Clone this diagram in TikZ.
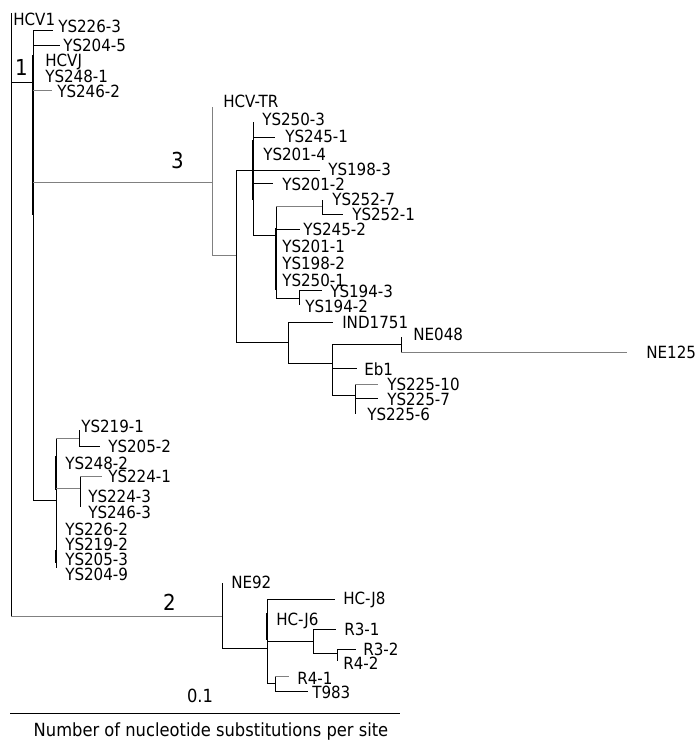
\documentclass[tikz,border=0pt]{standalone}
\usepackage{fontspec}
\setmainfont{DejaVu Sans}[FakeStretch=0.9]
\newcommand\leaffont{\fontsize{12.6}{14}\selectfont}
\newcommand\capfont{\fontsize{13.6}{15}\selectfont}
\newcommand\clusterfont{\fontsize{16.5}{18}\selectfont}
\tikzset{
  br/.style={line width=0.7pt, black},
  gbr/.style={line width=0.7pt, black!50},
  thk/.style={line width=1.5pt, black},
  lab/.style={anchor=base west, inner sep=0pt, font=\leaffont},
  clab/.style={anchor=base, inner sep=0pt, font=\clusterfont},
}
\begin{document}
\begin{tikzpicture}[x=0.75pt,y=-0.75pt]
\useasboundingbox[fill=white] (0,0) rectangle (700,754);
% ---------- internal nodes (entry point) and their vertical extents
\coordinate (rootT) at (11,13);  \coordinate (rootB) at (11,616);
\coordinate (c1) at (33,82);    \coordinate (c1T) at (33,30);   \coordinate (c1B) at (33,500);
\coordinate (c3) at (212,182);  \coordinate (c3T) at (212,107); \coordinate (c3B) at (212,255);
\coordinate (n236) at (236,255); \coordinate (n236T) at (236,170); \coordinate (n236B) at (236,342);
\coordinate (n253) at (253,170); \coordinate (n253T) at (253,122); \coordinate (n253B) at (253,235);
\coordinate (n276) at (276,235); \coordinate (n276T) at (276,206); \coordinate (n276B) at (276,298);
\coordinate (n322) at (322,206); \coordinate (n322T) at (322,200); \coordinate (n322B) at (322,214);
\coordinate (n299) at (299,298); \coordinate (n299T) at (299,290); \coordinate (n299B) at (299,305);
\coordinate (n288) at (288,342); \coordinate (n288T) at (288,322); \coordinate (n288B) at (288,363);
\coordinate (n332) at (332,363); \coordinate (n332T) at (332,344); \coordinate (n332B) at (332,395);
\coordinate (n401) at (401,344); \coordinate (n401T) at (401,337); \coordinate (n401B) at (401,352);
\coordinate (n355) at (355,395); \coordinate (n355T) at (355,384); \coordinate (n355B) at (355,414);
\coordinate (n56) at (56,500);   \coordinate (n56T) at (56,438);   \coordinate (n56B) at (56,568);
\coordinate (n79) at (79,438);   \coordinate (n79T) at (79,430);   \coordinate (n79B) at (79,446);
\coordinate (n80) at (80,488);   \coordinate (n80T) at (80,476);   \coordinate (n80B) at (80,507);
\coordinate (c2) at (222,616);   \coordinate (c2T) at (222,583);   \coordinate (c2B) at (222,648);
\coordinate (n267) at (267,648); \coordinate (n267T) at (267,599); \coordinate (n267B) at (267,683);
\coordinate (n313) at (313,641); \coordinate (n313T) at (313,629); \coordinate (n313B) at (313,653);
\coordinate (n337) at (337,653); \coordinate (n337T) at (337,649); \coordinate (n337B) at (337,661);
\coordinate (n275) at (275,683); \coordinate (n275T) at (275,676); \coordinate (n275B) at (275,691);
% ---------- leaf ends
\coordinate (l2263) at (53,30);   \coordinate (l2045) at (60,45);   \coordinate (l2462) at (52,90);
\coordinate (l2451) at (275,137); \coordinate (l1983) at (320,170); \coordinate (l2012) at (273,183);
\coordinate (l2452) at (300,229); \coordinate (l2521) at (343,214); \coordinate (l1943) at (322,290);
\coordinate (lind) at (333,322);  \coordinate (lne125) at (627,352); \coordinate (leb1) at (357,368);
\coordinate (l22510) at (378,384); \coordinate (l2257) at (378,398);
\coordinate (l2052) at (100,446); \coordinate (l2241) at (102,476);
\coordinate (lhcj8) at (335,599); \coordinate (lr31) at (336,629); \coordinate (lr32) at (356,649);
\coordinate (lr41) at (289,676);  \coordinate (lt983) at (308,691);
% ---------- vertical lines
\draw[br] (rootT) -- (rootB);
\draw[br] (c1T) -- (c1B);
\draw[gbr] (c3T) -- (c3B);
\foreach \n in {n236,n253,n276,n322,n299,n288,n332,n401,n355,n56,n79,n80,c2,n267,n313,n337,n275}
  \draw[br] (\n T) -- (\n B);
% overlapping zero-length branches look thicker
\draw[thk] (33,55) -- (33,215);
\draw[thk] (253,140) -- (253,200);
\draw[thk] (276,228) -- (276,290);
\draw[thk] (56,456) -- (56,490);
\draw[thk] (56,550) -- (56,563);
\draw[thk] (267,613) -- (267,640);
% ---------- horizontal connectors between internal nodes
\draw[br]  (c1 -| rootT) -- (c1);
\draw[gbr] (c3 -| c1) -- (c3);
\draw[br]  (n56 -| c1) -- (n56);
\draw[gbr] (c2 -| rootT) -- (c2);
\draw[gbr] (n236 -| c3) -- (n236);
\draw[br]  (n253 -| n236) -- (n253);
\draw[br]  (n288 -| n236) -- (n288);
\draw[br]  (n276 -| n253) -- (n276);
\draw[gbr] (n322 -| n276) -- (n322);
\draw[br]  (n299 -| n276) -- (n299);
\draw[br]  (n332 -| n288) -- (n332);
\draw[br]  (n401 -| n332) -- (n401);
\draw[br]  (n355 -| n332) -- (n355);
\draw[gbr] (n79 -| n56) -- (n79);
\draw[gbr] (n80 -| n56) -- (n80);
\draw[br]  (n267 -| c2) -- (n267);
\draw[br]  (n313 -| n267) -- (n313);
\draw[br]  (n337 -| n313) -- (n337);
\draw[br]  (n275 -| n267) -- (n275);
% ---------- leaf branches
\draw[br]  (l2263 -| c1) -- (l2263);
\draw[br]  (l2045 -| c1) -- (l2045);
\draw[gbr] (l2462 -| c1) -- (l2462);
\draw[br]  (l2451 -| n253) -- (l2451);
\draw[br]  (l1983 -| n253) -- (l1983);
\draw[br]  (l2012 -| n253) -- (l2012);
\draw[br]  (l2452 -| n276) -- (l2452);
\draw[br]  (l2521 -| n322) -- (l2521);
\draw[br]  (l1943 -| n299) -- (l1943);
\draw[br]  (lind -| n288) -- (lind);
\draw[gbr] (lne125 -| n401) -- (lne125);
\draw[br]  (leb1 -| n332) -- (leb1);
\draw[gbr] (l22510 -| n355) -- (l22510);
\draw[br]  (l2257 -| n355) -- (l2257);
\draw[br]  (l2052 -| n79) -- (l2052);
\draw[gbr] (l2241 -| n80) -- (l2241);
\draw[br]  (lhcj8 -| n267) -- (lhcj8);
\draw[br]  (lr31 -| n313) -- (lr31);
\draw[br]  (lr32 -| n337) -- (lr32);
\draw[gbr] (lr41 -| n275) -- (lr41);
\draw[br]  (lt983 -| n275) -- (lt983);
% ---------- leaf labels
\node[lab] (tHCV1)  at (13,25)  {HCV1};
\node[lab] (t2263)  at (58,32)  {YS226-3};
\node[lab] (t2045)  at (63,51)  {YS204-5};
\node[lab] (tHCVJ)  at (45,66)  {HCVJ};
\node[lab] (t2481)  at (45,82)  {YS248-1};
\node[lab] (t2462)  at (57,97)  {YS246-2};
\node[lab] (tTR)    at (223,107) {HCV-TR};
\node[lab] (t2503)  at (262,125) {YS250-3};
\node[lab] (t2451)  at (285,142) {YS245-1};
\node[lab] (t2014)  at (263,160) {YS201-4};
\node[lab] (t1983)  at (328,175) {YS198-3};
\node[lab] (t2012)  at (282,190) {YS201-2};
\node[lab] (t2527)  at (332,205) {YS252-7};
\node[lab] (t2521)  at (352,220) {YS252-1};
\node[lab] (t2452)  at (303,235) {YS245-2};
\node[lab] (t2011)  at (282,252) {YS201-1};
\node[lab] (t1982)  at (282,269) {YS198-2};
\node[lab] (t2501)  at (282,286) {YS250-1};
\node[lab] (t1943)  at (330,297) {YS194-3};
\node[lab] (t1942)  at (305,312) {YS194-2};
\node[lab] (tIND)   at (342,328) {IND1751};
\node[lab] (tNE048) at (413,340) {NE048};
\node[lab] (tNE125) at (646,358) {NE125};
\node[lab] (tEb1)   at (364,375) {Eb1};
\node[lab] (t22510) at (387,390) {YS225-10};
\node[lab] (t2257)  at (387,405) {YS225-7};
\node[lab] (t2256)  at (367,420) {YS225-6};
\node[lab] (t2191)  at (81,432)  {YS219-1};
\node[lab] (t2052)  at (108,452) {YS205-2};
\node[lab] (t2482)  at (65,469)  {YS248-2};
\node[lab] (t2241)  at (108,482) {YS224-1};
\node[lab] (t2243)  at (88,502)  {YS224-3};
\node[lab] (t2463)  at (88,518)  {YS246-3};
\node[lab] (t2262)  at (65,535)  {YS226-2};
\node[lab] (t2192)  at (65,550)  {YS219-2};
\node[lab] (t2053)  at (65,565)  {YS205-3};
\node[lab] (t2049)  at (65,580)  {YS204-9};
\node[lab] (tNE92)  at (231,588) {NE92};
\node[lab] (tHCJ8)  at (343,604) {HC-J8};
\node[lab] (tHCJ6)  at (276,625) {HC-J6};
\node[lab] (tR31)   at (344,635) {R3-1};
\node[lab] (tR32)   at (363,655) {R3-2};
\node[lab] (tR42)   at (343,669) {R4-2};
\node[lab] (tR41)   at (297,684) {R4-1};
\node[lab] (tT983)  at (312,698) {T983};
% ---------- cluster numbers
\node[clab] (k1) at (21.5,75) {1};
\node[clab] (k3) at (177.5,168) {3};
\node[clab] (k2) at (169.5,610) {2};
% ---------- scale
\coordinate (sL) at (10,713); \coordinate (sR) at (400,713);
\draw[br] (sL) -- (sR);
\node[anchor=base, inner sep=0pt, font=\capfont] (sc) at (200,702) {0.1};
\node[anchor=base, inner sep=0pt, font=\capfont] (cap) at (211,736) {Number of nucleotide substitutions per site};
\end{tikzpicture}
\end{document}
